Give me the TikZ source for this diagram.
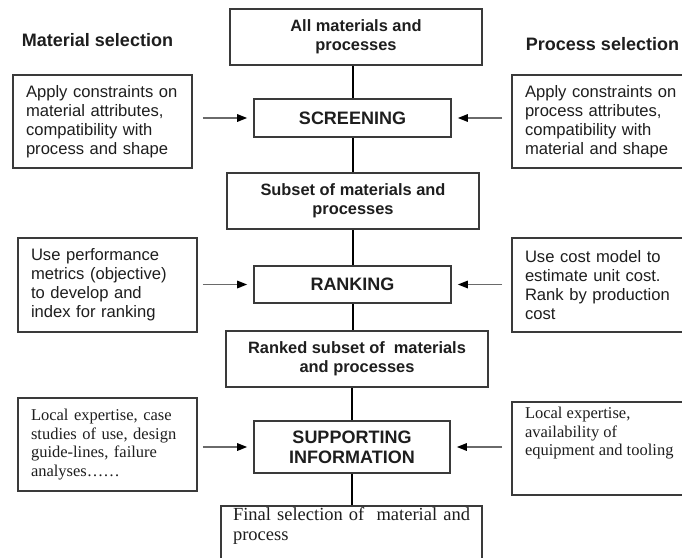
\documentclass[tikz,border=0pt]{standalone}
\usepackage{fontspec}
\setmainfont{Liberation Serif}
\setsansfont{Liberation Sans}
\usetikzlibrary{arrows.meta}

\definecolor{edge}{HTML}{3A3A3A}
\definecolor{shaft}{HTML}{6A6A6A}
\definecolor{ink}{HTML}{1E1E1E}

\tikzset{
  stagebox/.style={draw=edge, line width=1.6pt, fill=white, inner sep=0pt,
    text=ink, align=center, font=\sffamily\bfseries\fontsize{18}{20}\selectfont},
  setbox/.style={draw=edge, line width=1.6pt, fill=white, inner sep=0pt,
    text=ink, align=center, font=\sffamily\bfseries\fontsize{16.4}{19}\selectfont},
  sidebox/.style={draw=edge, line width=1.6pt, fill=white, inner xsep=13pt,
    inner ysep=0pt, text=ink, align=left,
    font=\sffamily\fontsize{16.6}{19}\selectfont},
  serifbox/.style={draw=edge, line width=1.6pt, fill=white, inner xsep=13pt,
    inner ysep=0pt, text=ink, align=left,
    font=\rmfamily\fontsize{16.5}{18.6}\selectfont},
  heading/.style={text=ink, inner sep=0pt,
    font=\sffamily\bfseries\fontsize{18}{20}\selectfont},
  flow/.style={draw=black, line width=2pt},
  feed/.style={draw=shaft, line width=1.5pt,
    -{Triangle[length=10pt,width=7.5pt,color=black]}},
}

\begin{document}
\begin{tikzpicture}[x=1pt,y=-1pt]
\useasboundingbox[fill=white] (0,0) rectangle (682,557);

% headings of the two columns
\node[heading] (hmat) at (97.5,40) {Material selection};
\node[heading] (hpro) at (602.5,44) {Process selection};

% central chain
\node[setbox, minimum width=252pt, minimum height=56pt] (all) at (356,37)
  {All materials and\\processes};
\node[stagebox, minimum width=197pt, minimum height=38pt] (scr) at (352.5,118)
  {SCREENING};
\node[setbox, minimum width=252pt, minimum height=56pt] (sub) at (353,201)
  {Subset of materials and\\processes};
\node[stagebox, minimum width=197pt, minimum height=37pt] (rank) at (352.5,284.5)
  {RANKING};
\node[setbox, minimum width=262pt, minimum height=56pt] (rsub) at (357,359)
  {Ranked subset of\ \ materials\\and processes};
\node[stagebox, minimum width=196pt, minimum height=52pt] (sup) at (352,447)
  {SUPPORTING\\INFORMATION};
\node[draw=edge, line width=1.6pt, fill=white, inner xsep=12pt, inner ysep=0pt,
  text=ink, anchor=north, font=\rmfamily\fontsize{18.5}{20}\selectfont] (fin)
  at (351.5,505)
  {\parbox[c][70pt][t]{237pt}{\vspace{2pt}\makebox[237pt][s]{Final selection of\ \ material and}\\process}};

% material-side inputs
\node[sidebox, text width=153pt, minimum height=93pt] (l1) at (102.5,121.5)
  {Apply constraints on\\material attributes,\\compatibility with\\process and shape};
\node[sidebox, text width=153pt, minimum height=94pt] (l2) at (107.5,285)
  {Use performance\\metrics (objective)\\to develop and\\index for ranking};
\node[serifbox, text width=153pt, minimum height=93pt] (l3) at (107.5,444.5)
  {Local expertise, case\\studies of use, design\\guide-lines, failure\\analyses\dots\dots};

% process-side inputs (their right edges run off the page)
\node[sidebox, text width=160pt, minimum height=93pt] (r1) at (605,121.5)
  {Apply constraints on\\process attributes,\\compatibility with\\material and shape};
\node[sidebox, text width=160pt, minimum height=94pt] (r2) at (605,285)
  {Use cost model to\\estimate unit cost.\\Rank by production\\cost};
\node[draw=edge, line width=1.6pt, fill=white, inner xsep=13pt, inner ysep=0pt,
  text=ink, align=left, font=\rmfamily\fontsize{16.5}{18.6}\selectfont] (r3)
  at (605,448.5)
  {\parbox[c][93pt][t]{160pt}{\vspace{5pt}Local expertise,\\availability of\\equipment and tooling}};

% vertical flow through the chain
\draw[flow] (scr.north) -- (scr.north |- all.south);
\draw[flow] (scr.south) -- (scr.south |- sub.north);
\draw[flow] (rank.north) -- (rank.north |- sub.south);
\draw[flow] (rank.south) -- (rank.south |- rsub.north);
\draw[flow] (sup.north) -- (sup.north |- rsub.south);
\draw[flow] (sup.south) -- (sup.south |- fin.north);

% side inputs feeding each stage
\draw[feed, shorten <=10pt, shorten >=6pt] (l1.east |- scr.west) -- (scr.west);
\draw[feed, shorten <=5pt, shorten >=6pt] (l2.east |- rank.west) -- (rank.west);
\draw[feed, shorten <=5pt, shorten >=6pt] (l3.east |- sup.west) -- (sup.west);
\draw[feed, shorten <=9pt, shorten >=6pt] (r1.west |- scr.east) -- (scr.east);
\draw[feed, shorten <=9pt, shorten >=6pt] (r2.west |- rank.east) -- (rank.east);
\draw[feed, shorten <=9pt, shorten >=6pt] (r3.west |- sup.east) -- (sup.east);
\end{tikzpicture}
\end{document}
